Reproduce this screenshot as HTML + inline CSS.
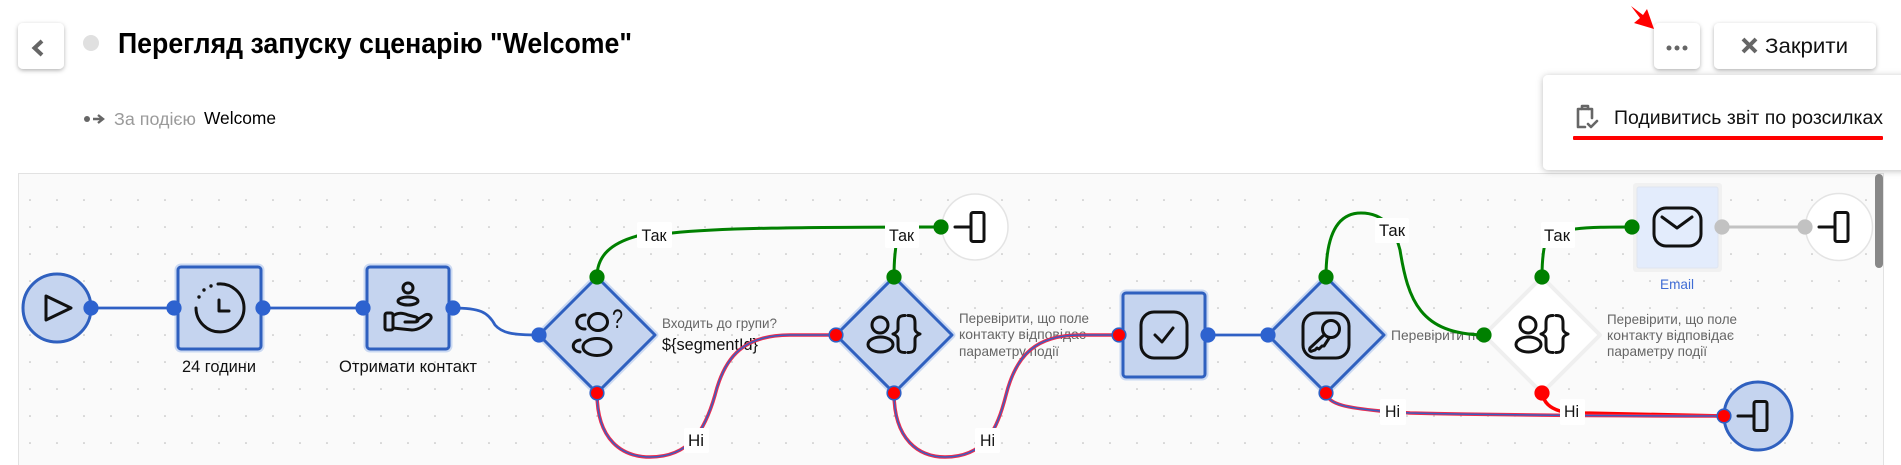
<!DOCTYPE html>
<html lang="uk">
<head>
<meta charset="utf-8">
<title>Перегляд запуску сценарію</title>
<style>
html,body{margin:0;padding:0;background:#fff;width:1901px;height:465px;overflow:hidden}
svg{display:block}
text{font-family:"Liberation Sans",sans-serif}
.ic{fill:none;stroke:#111;stroke-width:3;stroke-linecap:round;stroke-linejoin:round}
.lbl{font-size:17px;fill:#111}
.sm{font-size:14px;fill:#666}
.lb{fill:#fff}
.halo{fill:#c9d7f1;stroke:#cbd9f2;stroke-width:7;stroke-linejoin:round}
.node{fill:#c5d4ef;stroke:#2f60bf;stroke-width:3;stroke-linejoin:round}
</style>
</head>
<body>
<svg width="1901" height="465" viewBox="0 0 1901 465" xmlns="http://www.w3.org/2000/svg">
<defs>
<pattern id="g" x="-10.5" y="159.5" width="27" height="27" patternUnits="userSpaceOnUse">
<circle cx="13.5" cy="13.5" r="0.8" fill="#b4b4b4"/>
</pattern>
<filter id="s" x="-30%" y="-30%" width="160%" height="170%"><feDropShadow dx="0" dy="1.5" stdDeviation="2" flood-color="#000" flood-opacity=".3"/></filter>
<filter id="p" x="-10%" y="-20%" width="120%" height="140%"><feDropShadow dx="0" dy="1" stdDeviation="3.5" flood-color="#000" flood-opacity=".25"/></filter>
<g id="braces" class="ic">
<path d="M11,-18.5C5,-18.5 4,-16 4,-11L4,-5C4,-3 2,-1 -1,0C2,1 4,3 4,5L4,11C4,16 5,18.5 11,18.5"/>
<path d="M14,-18.5C20,-18.5 21,-16 21,-11L21,-5C21,-3 23,-1 26,0C23,1 21,3 21,5L21,11C21,16 20,18.5 14,18.5"/>
<circle cx="-14" cy="-9" r="8"/>
<ellipse cx="-13.5" cy="10.5" rx="12.5" ry="7.5"/>
</g>
<g id="endi" class="ic">
<path d="M-20,0H-4"/>
<rect x="-4" y="-14.5" width="13" height="29" rx="2"/>
</g>
</defs>

<!-- canvas -->
<rect x="18.5" y="173.5" width="1865" height="300" fill="#fafafa" stroke="#e2e2e2"/>
<rect x="19" y="174" width="1864" height="292" fill="url(#g)"/>
<rect x="1875" y="174" width="8" height="94" rx="4" fill="#888"/>

<!-- description text below edges -->
<text class="sm" x="662" y="328" textLength="115" lengthAdjust="spacingAndGlyphs">Входить до групи?</text>
<text class="lbl" x="662" y="350" textLength="96" lengthAdjust="spacingAndGlyphs">${segmentId}</text>
<text class="sm" x="959" y="323" textLength="130" lengthAdjust="spacingAndGlyphs">Перевірити, що поле</text>
<text class="sm" x="959" y="339" textLength="127" lengthAdjust="spacingAndGlyphs">контакту відповідає</text>
<text class="sm" x="959" y="356" textLength="100" lengthAdjust="spacingAndGlyphs">параметру події</text>
<text class="sm" x="1391" y="340" textLength="92" lengthAdjust="spacingAndGlyphs">Перевірити по</text>
<text class="sm" x="1607" y="324" textLength="130" lengthAdjust="spacingAndGlyphs">Перевірити, що поле</text>
<text class="sm" x="1607" y="340" textLength="127" lengthAdjust="spacingAndGlyphs">контакту відповідає</text>
<text class="sm" x="1607" y="356" textLength="100" lengthAdjust="spacingAndGlyphs">параметру події</text>

<!-- edges: blue -->
<g fill="none" stroke="#2f60c4" stroke-width="2.8">
<path d="M90,308H175"/>
<path d="M263,308H363"/>
<path d="M453,308C480,308 488,312 495,325C502,333 512,335 539,335"/>
<path d="M1208,335H1268"/>
</g>
<!-- edges: grey -->
<path d="M1722,227H1805" fill="none" stroke="#c2c2c2" stroke-width="3"/>
<!-- edges: green -->
<g fill="none" stroke="#008000" stroke-width="3">
<path d="M597,277C597,255 612,243 637,236L672,233C720,228 800,227 941,227"/>
<path d="M894,277C894,262 895,250 897,240L900,227H941"/>
<path d="M1326,277C1326,240 1335,213 1361,213C1385,213 1395,230 1400,250C1408,300 1420,334 1484,335"/>
<path d="M1542,277C1542,262 1543,250 1546,240L1575,229C1590,227 1610,227 1632,227"/>
</g>
<!-- edges: red / blue -->
<path d="M1542,393C1544,403 1550,408 1560,411L1584,413L1724,416" fill="none" stroke="#ff0000" stroke-width="3.5"/>
<g fill="none" stroke="#ef2a4d" stroke-width="3.5">
<path d="M597,393C597,440 622,457 650,457C690,457 705,430 715,395C725,355 745,335 790,335L836,335"/>
<path d="M894,393C894,440 919,457 945,457C985,457 997,430 1006,395C1016,355 1036,335 1080,335L1119,335"/>
<path d="M1326,393C1328,405 1350,408 1380,411L1410,413C1500,415 1600,416 1724,416"/>
</g>
<g fill="none" stroke="#3a5fc0" stroke-width="1.5">
<path d="M597,393C597,440 622,457 650,457C690,457 705,430 715,395C725,355 745,335 790,335L836,335"/>
<path d="M894,393C894,440 919,457 945,457C985,457 997,430 1006,395C1016,355 1036,335 1080,335L1119,335"/>
<path d="M1326,393C1328,405 1350,408 1380,411L1410,413C1500,415 1600,416 1724,416"/>
</g>

<!-- edge labels -->
<rect class="lb" x="637" y="222" width="35" height="26" rx="2"/>
<rect class="lb" x="885" y="222" width="34" height="26" rx="2"/>
<rect class="lb" x="1375" y="218" width="34" height="25" rx="2"/>
<rect class="lb" x="1541" y="222" width="34" height="26" rx="2"/>
<rect class="lb" x="684" y="428" width="25" height="25" rx="2"/>
<rect class="lb" x="975" y="428" width="25" height="25" rx="2"/>
<rect class="lb" x="1380" y="399" width="26" height="26" rx="2"/>
<rect class="lb" x="1560" y="399" width="25" height="26" rx="2"/>
<text class="lbl" x="641.5" y="241" textLength="25" lengthAdjust="spacingAndGlyphs">Так</text>
<text class="lbl" x="889" y="241" textLength="25" lengthAdjust="spacingAndGlyphs">Так</text>
<text class="lbl" x="1379" y="236" textLength="26" lengthAdjust="spacingAndGlyphs">Так</text>
<text class="lbl" x="1544" y="241" textLength="26" lengthAdjust="spacingAndGlyphs">Так</text>
<text class="lbl" x="688" y="446" textLength="16" lengthAdjust="spacingAndGlyphs">Ні</text>
<text class="lbl" x="980" y="446" textLength="15" lengthAdjust="spacingAndGlyphs">Ні</text>
<text class="lbl" x="1385" y="417" textLength="15" lengthAdjust="spacingAndGlyphs">Ні</text>
<text class="lbl" x="1564" y="417" textLength="15" lengthAdjust="spacingAndGlyphs">Ні</text>

<!-- start -->
<circle class="node" cx="57" cy="308" r="34"/>
<path class="ic" d="M46,296L71,308L46,320Z"/>

<!-- wait -->
<rect class="halo" x="178" y="267" width="83" height="82" rx="3"/>
<rect class="node" x="178" y="267" width="83" height="82" rx="3"/>
<path class="ic" d="M218,284A24,24 0 1 1 196,308"/>
<path class="ic" d="M219,300V311H229"/>
<g fill="#111"><circle cx="211" cy="286" r="1.7"/><circle cx="204" cy="290" r="1.7"/><circle cx="199" cy="297" r="1.7"/></g>
<text class="lbl" x="182" y="372" textLength="74" lengthAdjust="spacingAndGlyphs">24 години</text>

<!-- get contact -->
<rect class="halo" x="367" y="267" width="82" height="82" rx="3"/>
<rect class="node" x="367" y="267" width="82" height="82" rx="3"/>
<g class="ic" stroke-width="2.6">
<circle cx="408" cy="288" r="5"/>
<ellipse cx="408" cy="301" rx="10" ry="4"/>
<rect x="385" y="313" width="8" height="17" rx="2"/>
<path d="M393,316C398,312 403,313 408,315L416,317C419,318 419,322 415,322L405,322M417,320L425,315C430,313 433,317 430,320C425,326 418,330 412,330L393,328"/>
</g>
<text class="lbl" x="339" y="372" textLength="138" lengthAdjust="spacingAndGlyphs">Отримати контакт</text>

<!-- diamond 1 -->
<path class="halo" d="M597,277L655,335L597,393L539,335Z"/>
<path class="node" d="M597,277L655,335L597,393L539,335Z"/>
<g class="ic">
<ellipse cx="598" cy="322" rx="9.5" ry="8.5"/>
<path d="M585,315C574,315 574,329 585,329"/>
<ellipse cx="597" cy="347" rx="14" ry="8.5"/>
<path d="M580,340C571,341 571,351 580,352"/>
</g>
<text x="612" y="328" font-size="27" fill="#111" textLength="11" lengthAdjust="spacingAndGlyphs">?</text>

<!-- diamond 2 -->
<path class="halo" d="M894,277L952,335L894,393L836,335Z"/>
<path class="node" d="M894,277L952,335L894,393L836,335Z"/>
<use href="#braces" x="894" y="334"/>

<!-- end top -->
<circle cx="975" cy="227" r="33" fill="#fff" stroke="#e4e4e4" stroke-width="1.5"/>
<use href="#endi" x="975" y="227"/>

<!-- square 3 -->
<rect class="halo" x="1123" y="293" width="82" height="84" rx="3"/>
<rect class="node" x="1123" y="293" width="82" height="84" rx="3"/>
<rect class="ic" x="1141" y="312" width="46" height="46" rx="13"/>
<path class="ic" d="M1155,335L1162,342L1173,328"/>

<!-- diamond 3 -->
<path class="halo" d="M1326,277L1384,335L1326,393L1268,335Z"/>
<path class="node" d="M1326,277L1384,335L1326,393L1268,335Z"/>
<rect class="ic" x="1303" y="313" width="46" height="45" rx="13"/>
<g class="ic" stroke-width="2.2">
<circle cx="1331" cy="329" r="8.5"/>
<path d="M1324.500,334.500L1310,348C1309,350 1310,352 1312,351L1315,350L1317,348L1319,349L1322,346L1324,346L1329.500,337.500"/>
</g>

<!-- diamond 4 -->
<path d="M1542,277L1600,335L1542,393L1484,335Z" fill="#fff" stroke="#efefef" stroke-width="4" stroke-linejoin="round"/>
<use href="#braces" x="1542" y="334"/>

<!-- email -->
<rect x="1633" y="183" width="89" height="89" rx="3" fill="#f1f1f1"/>
<rect x="1637" y="187" width="81" height="81" rx="2" fill="#e3ecfc" stroke="#dfe5ef"/>
<rect class="ic" x="1654" y="208" width="47" height="38" rx="12"/>
<path class="ic" d="M1662,217L1677,228L1692,217"/>
<text x="1660" y="289" font-size="14" fill="#3f6cd4" textLength="34" lengthAdjust="spacingAndGlyphs">Email</text>

<!-- end right -->
<circle cx="1839" cy="227" r="33.5" fill="#fff" stroke="#e4e4e4" stroke-width="1.5"/>
<use href="#endi" x="1839" y="227"/>

<!-- end blue -->
<circle class="node" cx="1758" cy="416" r="34"/>
<use href="#endi" x="1758" y="416"/>

<!-- ports -->
<g fill="#2d62cf">
<circle cx="91" cy="308" r="7.6"/><circle cx="174" cy="308" r="7.6"/><circle cx="263" cy="308" r="7.6"/>
<circle cx="363" cy="308" r="7.6"/><circle cx="453" cy="308" r="7.6"/><circle cx="539" cy="335" r="7.6"/>
<circle cx="1208" cy="335" r="7.6"/><circle cx="1268" cy="335" r="7.6"/>
</g>
<g fill="#008000">
<circle cx="597" cy="277" r="7.6"/><circle cx="894" cy="277" r="7.6"/><circle cx="941" cy="227" r="7.6"/>
<circle cx="1326" cy="277" r="7.6"/><circle cx="1542" cy="277" r="7.6"/><circle cx="1484" cy="335" r="7.6"/><circle cx="1632" cy="227" r="7.6"/>
</g>
<g fill="#c2c2c2"><circle cx="1722" cy="227" r="7.6"/><circle cx="1805" cy="227" r="7.6"/></g>
<g fill="#ff0000" stroke="#2f60c4" stroke-width="1.6">
<circle cx="597" cy="393" r="6.8"/><circle cx="894" cy="393" r="6.8"/><circle cx="836" cy="335" r="6.8"/>
<circle cx="1119" cy="335" r="6.8"/><circle cx="1326" cy="393" r="6.8"/><circle cx="1724" cy="416" r="6.8"/>
</g>
<circle cx="1542" cy="393" r="7.6" fill="#ff0000"/>

<!-- header -->
<rect x="18" y="23" width="46" height="46" rx="5" fill="#fff" filter="url(#s)"/>
<path d="M42,41L34.500,48L42,55" fill="none" stroke="#666" stroke-width="4"/>
<circle cx="91" cy="43" r="8" fill="#e0e0e0"/>
<text x="118" y="53" font-size="29" font-weight="700" fill="#000" textLength="514" lengthAdjust="spacingAndGlyphs">Перегляд запуску сценарію "Welcome"</text>
<circle cx="87" cy="119" r="3" fill="#666"/>
<path d="M93,119H102M98,115L103,119L98,123" fill="none" stroke="#666" stroke-width="2.4"/>
<text x="114" y="125" font-size="17.5" fill="#9a9a9a" textLength="82" lengthAdjust="spacingAndGlyphs">За подією</text>
<text x="204" y="124" font-size="17.5" fill="#000" textLength="72" lengthAdjust="spacingAndGlyphs">Welcome</text>

<rect x="1654" y="23" width="46" height="46" rx="5" fill="#fff" filter="url(#s)"/>
<g fill="#666"><circle cx="1669" cy="48" r="2.5"/><circle cx="1677" cy="48" r="2.5"/><circle cx="1685" cy="48" r="2.5"/></g>
<rect x="1714" y="23" width="162" height="46" rx="5" fill="#fff" filter="url(#s)"/>
<path d="M1743,39L1756,52M1756,39L1743,52" stroke="#666" stroke-width="4" fill="none"/>
<text x="1765" y="53" font-size="21" fill="#111" textLength="83" lengthAdjust="spacingAndGlyphs">Закрити</text>
<path d="M1631,6L1643,15L1647,9L1654,29L1634,23L1640,18Z" fill="#ff0000"/>

<!-- popup -->
<rect x="1543" y="75" width="370" height="95" rx="5" fill="#fff" filter="url(#p)"/>
<g fill="none" stroke="#666" stroke-width="2.6" stroke-linecap="round" stroke-linejoin="round">
<path d="M1581,109H1578V127H1585M1589,109H1592V118"/>
<path d="M1582,109V106H1588V109Z"/>
<path d="M1588,124L1591,127L1597,121"/>
</g>
<text x="1614" y="124" font-size="19" fill="#111" textLength="269" lengthAdjust="spacingAndGlyphs">Подивитись звіт по розсилках</text>
<rect x="1573" y="136" width="310" height="4" rx="1" fill="#ff0000"/>
</svg>
</body>
</html>
